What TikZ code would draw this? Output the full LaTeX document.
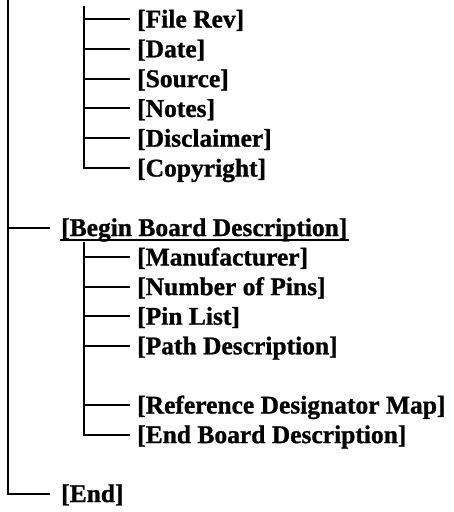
\documentclass[tikz,border=0pt]{standalone}
\usepackage{fontspec}
\setmainfont{Liberation Serif}[BoldFeatures={FakeBold=1}]
\begin{document}
\begin{tikzpicture}[x=1pt,y=-1pt,
  lbl/.style={anchor=base west,inner sep=0pt,font=\bfseries\fontsize{25.5}{28}\selectfont},
  tree/.style={line width=2pt,line join=miter}]
\useasboundingbox (0,0) rectangle (454,512);
% outer trunk points
\coordinate (otop) at (8,0);
\coordinate (ob) at (8,228);
\coordinate (oe) at (8,493.5);
% inner trunk 1
\coordinate (i1top) at (84,6);
\foreach \n/\y in {a/19,b/48.8,c/78.6,d/108.4,e/138.2,f/168}
  \coordinate (p\n) at (84,\y);
% inner trunk 2
\coordinate (i2top) at (84,242);
\foreach \n/\y in {g/257,h/286.6,i/316.2,j/345.8,k/405,l/434.6}
  \coordinate (p\n) at (84,\y);

% labels
\node[lbl] (ta) at (137,27.5) {[File Rev]};
\node[lbl] (tb) at (137,57.3) {[Date]};
\node[lbl] (tc) at (137,87.1) {[Source]};
\node[lbl] (td) at (137,116.9) {[Notes]};
\node[lbl] (te) at (137,146.7) {[Disclaimer]};
\node[lbl] (tf) at (137,176.5) {[Copyright]};
\node[lbl] (tbbd) at (61,236) {[Begin Board Description]};
\node[lbl] (tg) at (137,265.5) {[Manufacturer]};
\node[lbl] (th) at (137,295.1) {[Number of Pins]};
\node[lbl] (ti) at (137,324.7) {[Pin List]};
\node[lbl] (tj) at (137,354.3) {[Path Description]};
\node[lbl] (tk) at (137,413.5) {[Reference Designator Map]};
\node[lbl] (tl) at (137,443.1) {[End Board Description]};
\node[lbl] (tend) at (61,502) {[End]};

% underline
\draw[line width=2pt] ([shift={(-1,4)}]tbbd.base west) -- ([shift={(1,4)}]tbbd.base east);

% outer trunk
\draw[tree] (otop) -- (oe) -- ([xshift=-11pt]oe -| tend.west);
\draw[tree] (ob) -- ([xshift=-11pt]ob -| tbbd.west);
% inner trunk 1
\draw[tree] (i1top) -- (pf) -- ([xshift=-7pt]pf -| tf.west);
\foreach \n in {a,b,c,d,e}
  \draw[tree] (p\n) -- ([xshift=-7pt]p\n -| t\n.west);
% inner trunk 2
\draw[tree] (i2top) -- (pl) -- ([xshift=-7pt]pl -| tl.west);
\foreach \n in {g,h,i,j,k}
  \draw[tree] (p\n) -- ([xshift=-7pt]p\n -| t\n.west);
\end{tikzpicture}
\end{document}
